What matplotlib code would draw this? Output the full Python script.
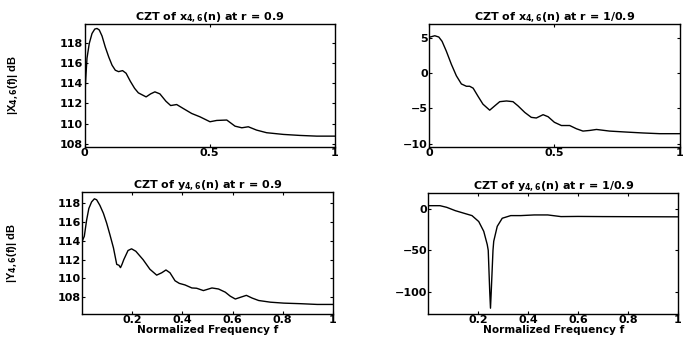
import matplotlib
matplotlib.use("Agg")
import matplotlib.pyplot as plt

plt.rcParams["font.family"] = ["DejaVu Sans"]
plt.rcParams["font.weight"] = "bold"
plt.rcParams["mathtext.fontset"] = "custom"
plt.rcParams["mathtext.rm"] = "DejaVu Sans:bold"
plt.rcParams["mathtext.bf"] = "DejaVu Sans:bold"
plt.rcParams["mathtext.default"] = "bf"

# X(f) at r = 0.9
f_x_in = [0.0, 0.005, 0.01, 0.019, 0.03, 0.041, 0.05, 0.059, 0.07, 0.083, 0.097, 0.11, 0.123,
          0.136, 0.152, 0.166, 0.183, 0.2, 0.215, 0.246, 0.264, 0.281, 0.301, 0.325, 0.344,
          0.368, 0.394, 0.428, 0.461, 0.501, 0.528, 0.568, 0.601, 0.628, 0.654, 0.687, 0.727,
          0.794, 0.86, 0.927, 1.0]
x_in_db = [112.06, 114.5, 116.5, 117.96, 118.95, 119.39, 119.45, 119.3, 118.7, 117.6, 116.6, 115.8, 115.3,
           115.16, 115.26, 115.0, 114.2, 113.5, 113.05, 112.65, 112.95, 113.15, 112.95, 112.22, 111.79,
           111.89, 111.5, 111.0, 110.67, 110.18, 110.31, 110.35, 109.74, 109.58, 109.68, 109.35, 109.09,
           108.92, 108.82, 108.75, 108.75]

# X(f) at r = 1/0.9
f_x_out = [0.0, 0.023, 0.039, 0.052, 0.069, 0.089, 0.109, 0.129, 0.149, 0.162, 0.176, 0.195,
           0.215, 0.242, 0.262, 0.282, 0.309, 0.335, 0.355, 0.382, 0.408, 0.428, 0.455, 0.475,
           0.5, 0.528, 0.561, 0.588, 0.614, 0.641, 0.668, 0.72, 0.787, 0.854, 0.92, 1.0]
x_out_db = [5.1, 5.32, 5.14, 4.53, 3.13, 1.27, -0.37, -1.53, -1.86, -1.86, -2.13, -3.26,
            -4.4, -5.26, -4.65, -4.05, -3.95, -4.05, -4.65, -5.58, -6.28, -6.37, -5.9, -6.19,
            -6.98, -7.44, -7.44, -7.9, -8.23, -8.14, -8.0, -8.23, -8.37, -8.5, -8.6, -8.6]

# Y(f) at r = 0.9
f_y_in = [0.002, 0.01, 0.019, 0.028, 0.039, 0.05, 0.059, 0.072, 0.086, 0.099, 0.112, 0.126,
          0.139, 0.148, 0.154, 0.16, 0.167, 0.184, 0.198, 0.215, 0.244, 0.271, 0.298, 0.318,
          0.335, 0.351, 0.371, 0.388, 0.411, 0.438, 0.457, 0.484, 0.518, 0.544, 0.571, 0.591,
          0.611, 0.631, 0.655, 0.678, 0.704, 0.751, 0.804, 0.871, 0.937, 1.0]
y_in_db = [114.0, 114.5, 116.2, 117.47, 118.17, 118.5, 118.4, 117.8, 116.95, 115.9, 114.66, 113.26,
           111.5, 111.4, 111.15, 111.5, 112.0, 112.98, 113.16, 112.9, 112.0, 110.98, 110.35, 110.6,
           110.9, 110.6, 109.75, 109.47, 109.3, 108.98, 108.95, 108.7, 108.98, 108.87, 108.53, 108.1,
           107.8, 107.98, 108.19, 107.9, 107.64, 107.46, 107.36, 107.3, 107.22, 107.22]

# Y(f) at r = 1/0.9
f_y_out = [0.002, 0.008, 0.048, 0.075, 0.109, 0.149, 0.176, 0.203, 0.223, 0.237, 0.241, 0.247,
           0.25, 0.253, 0.26, 0.263, 0.277, 0.297, 0.331, 0.371, 0.425, 0.479, 0.532, 0.6,
           0.7, 0.8, 0.9, 1.0]
y_out_db = [4.0, 4.0, 4.0, 2.0, -2.0, -5.6, -8.0, -15.2, -27.0, -43.0, -50.0, -100.0,
            -120.0, -100.0, -50.0, -39.0, -21.0, -11.2, -8.0, -8.0, -7.2, -7.2, -9.2, -9.0,
            -9.2, -9.3, -9.4, -9.5]

TEXT_SIZE = 8.0
XLABEL_SIZE = 7.6
YLABEL_FONT = dict(family="Liberation Sans", size=8.0, weight="bold")


def style_axes(ax):
    ax.tick_params(direction="in", length=2.5, width=0.8, top=True, right=True,
                   labelsize=TEXT_SIZE, pad=1)
    for spine in ax.spines.values():
        spine.set_linewidth(1.0)
    for lab in ax.get_xticklabels() + ax.get_yticklabels():
        lab.set_fontweight("bold")


fig = plt.figure(figsize=(6.87, 3.41), dpi=100)

ax1 = fig.add_axes([0.123, 0.5698, 0.3646, 0.36])
ax1.plot(f_x_in, x_in_db, color="black", lw=1.0)
ax1.set_xlim(0, 1)
ax1.set_ylim(107.7, 119.9)
ax1.set_xticks([0, 0.5, 1])
ax1.set_xticklabels(["0", "0.5", "1"])
ax1.set_yticks([108, 110, 112, 114, 116, 118])
ax1.set_title("CZT of x$_{4,6}$(n) at r = 0.9", fontsize=TEXT_SIZE, fontweight="bold", pad=3)
ax1.set_ylabel("|X$_{4,6}$(f)| dB", fontdict=YLABEL_FONT)
ax1.yaxis.set_label_coords(-0.255, 0.5)
style_axes(ax1)

ax2 = fig.add_axes([0.6245, 0.5698, 0.3649, 0.36])
ax2.plot(f_x_out, x_out_db, color="black", lw=1.0)
ax2.set_xlim(0, 1)
ax2.set_ylim(-10.45, 7)
ax2.set_xticks([0, 0.5, 1])
ax2.set_xticklabels(["0", "0.5", "1"])
ax2.set_yticks([-10, -5, 0, 5])
ax2.set_title("CZT of x$_{4,6}$(n) at r = 1/0.9", fontsize=TEXT_SIZE, fontweight="bold", pad=3)
style_axes(ax2)

ax3 = fig.add_axes([0.1198, 0.0792, 0.365, 0.357])
ax3.plot(f_y_in, y_in_db, color="black", lw=1.0)
ax3.set_xlim(0.002, 1)
ax3.set_ylim(106.2, 119.2)
ax3.set_xticks([0.2, 0.4, 0.6, 0.8, 1])
ax3.set_xticklabels(["0.2", "0.4", "0.6", "0.8", "1"])
ax3.set_yticks([108, 110, 112, 114, 116, 118])
ax3.set_title("CZT of y$_{4,6}$(n) at r = 0.9", fontsize=TEXT_SIZE, fontweight="bold", pad=3)
ax3.set_ylabel("|Y$_{4,6}$(f)| dB", fontdict=YLABEL_FONT)
ax3.yaxis.set_label_coords(-0.247, 0.5)
ax3.set_xlabel("Normalized Frequency f", fontsize=XLABEL_SIZE, fontweight="bold", labelpad=0)
style_axes(ax3)

ax4 = fig.add_axes([0.6237, 0.0792, 0.3632, 0.354])
ax4.plot(f_y_out, y_out_db, color="black", lw=1.0)
ax4.set_xlim(0.002, 1)
ax4.set_ylim(-127, 19)
ax4.set_xticks([0.2, 0.4, 0.6, 0.8, 1])
ax4.set_xticklabels(["0.2", "0.4", "0.6", "0.8", "1"])
ax4.set_yticks([-100, -50, 0])
ax4.set_title("CZT of y$_{4,6}$(n) at r = 1/0.9", fontsize=TEXT_SIZE, fontweight="bold", pad=3)
ax4.set_xlabel("Normalized Frequency f", fontsize=XLABEL_SIZE, fontweight="bold", labelpad=0)
style_axes(ax4)

fig.savefig("out.png", dpi=100)
